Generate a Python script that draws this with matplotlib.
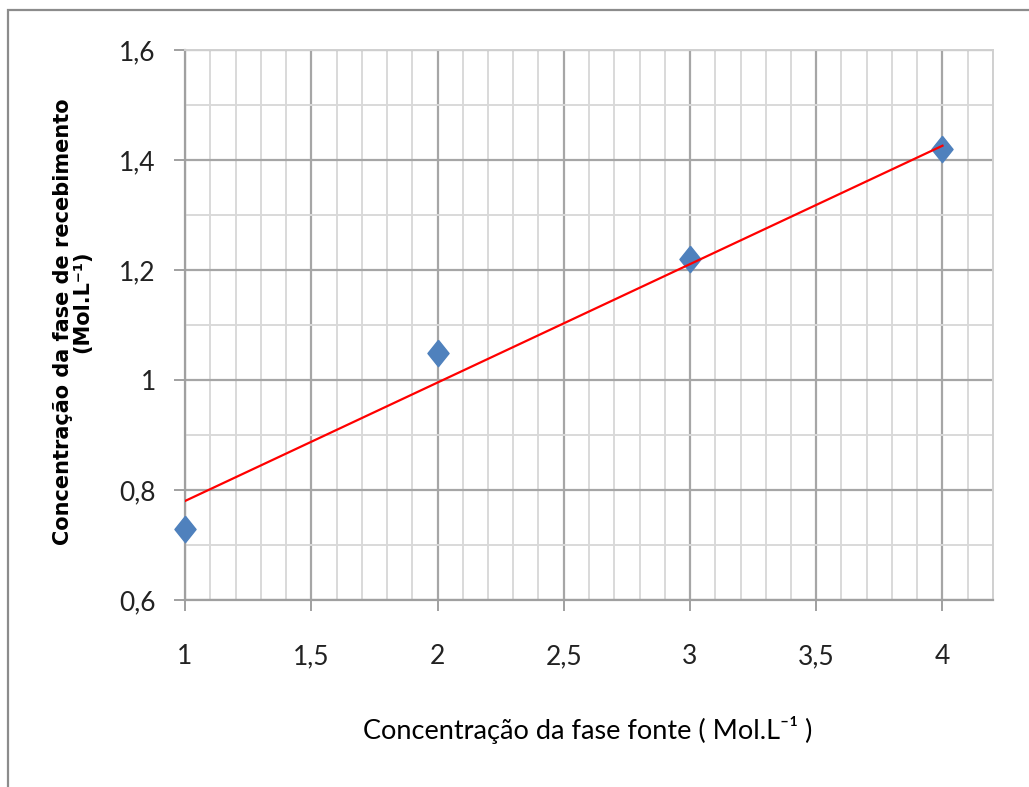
import numpy as np
import matplotlib
matplotlib.use("Agg")
import matplotlib.pyplot as plt
from matplotlib.patches import Rectangle
from matplotlib.ticker import MultipleLocator, FuncFormatter

# data
conc_fonte = [1, 2, 3, 4]
conc_receb = [0.73, 1.05, 1.22, 1.42]
# red trend line, end points as drawn in the reference
trend_x = [1, 4]
trend_y = [0.78, 1.426]

xlabel = "Concentração da fase fonte ( Mol.L⁻¹ )"
ylabel1 = "Concentração da fase de recebimento"
ylabel2 = "(Mol.L⁻¹)"

W, H = 1029, 787
fig = plt.figure(figsize=(W / 100, H / 100), dpi=100)
fig.patch.set_facecolor("white")

# outer chart frame (cut off at right/bottom in the reference)
fig.patches.append(Rectangle((8 / W, -0.2), 1.5, 1.2 - 10 / H, transform=fig.transFigure,
                             fill=False, edgecolor="#8c8c8c", linewidth=1.6, clip_on=False))

ax = fig.add_axes([185 / W, 1 - 600 / H, (993 - 185) / W, (600 - 50) / H])
ax.set_xlim(1, 4.2)
ax.set_ylim(0.6, 1.6)

ax.xaxis.set_major_locator(MultipleLocator(0.5))
ax.xaxis.set_minor_locator(MultipleLocator(0.1))
ax.yaxis.set_major_locator(MultipleLocator(0.2))
ax.yaxis.set_minor_locator(MultipleLocator(0.1))

ax.grid(which="major", color="#a6a6a6", linewidth=1.6)
ax.grid(which="minor", color="#d9d9d9", linewidth=1.4)
ax.set_axisbelow(True)

for s in ["left", "bottom"]:
    ax.spines[s].set_color("#a0a0a0")
    ax.spines[s].set_linewidth(1.6)
for s in ["top", "right"]:
    ax.spines[s].set_color("#d0d0d0")
    ax.spines[s].set_linewidth(1.4)

fmt = FuncFormatter(lambda v, p: ("%g" % round(v, 2)).replace(".", ","))
ax.xaxis.set_major_formatter(fmt)
ax.yaxis.set_major_formatter(fmt)
ax.tick_params(which="major", length=8, width=1.4, color="#a0a0a0",
               labelsize=19, labelcolor="#222222")
ax.tick_params(axis="x", which="major", pad=24)
ax.tick_params(axis="y", which="major", pad=13)
ax.tick_params(which="minor", length=0)
for lab in ax.get_xticklabels() + ax.get_yticklabels():
    lab.set_family(["Lato", "DejaVu Sans"])

diamond = [(0, 1), (0.8, 0), (0, -1), (-0.8, 0), (0, 1)]
ax.plot(conc_fonte, conc_receb, linestyle="none", marker=diamond, markersize=19,
        color="#4f81bd", zorder=3, clip_on=False)
ax.plot(trend_x, trend_y, color="#ff0000", linewidth=1.6, zorder=4)

fig.text(588 / W, 1 - 730 / H, xlabel, ha="center", va="center", fontsize=19.5,
         family=["Lato", "DejaVu Sans"], color="#000000")
fig.text(63 / W, 1 - 322 / H, ylabel1, ha="center", va="center", rotation=90,
         fontsize=15, fontweight="bold", family=["DejaVu Sans"])
fig.text(82 / W, 1 - 302 / H, ylabel2, ha="center", va="center", rotation=90,
         fontsize=15, fontweight="bold", family=["DejaVu Sans"])

fig.savefig("out.png", dpi=100, facecolor="white")
